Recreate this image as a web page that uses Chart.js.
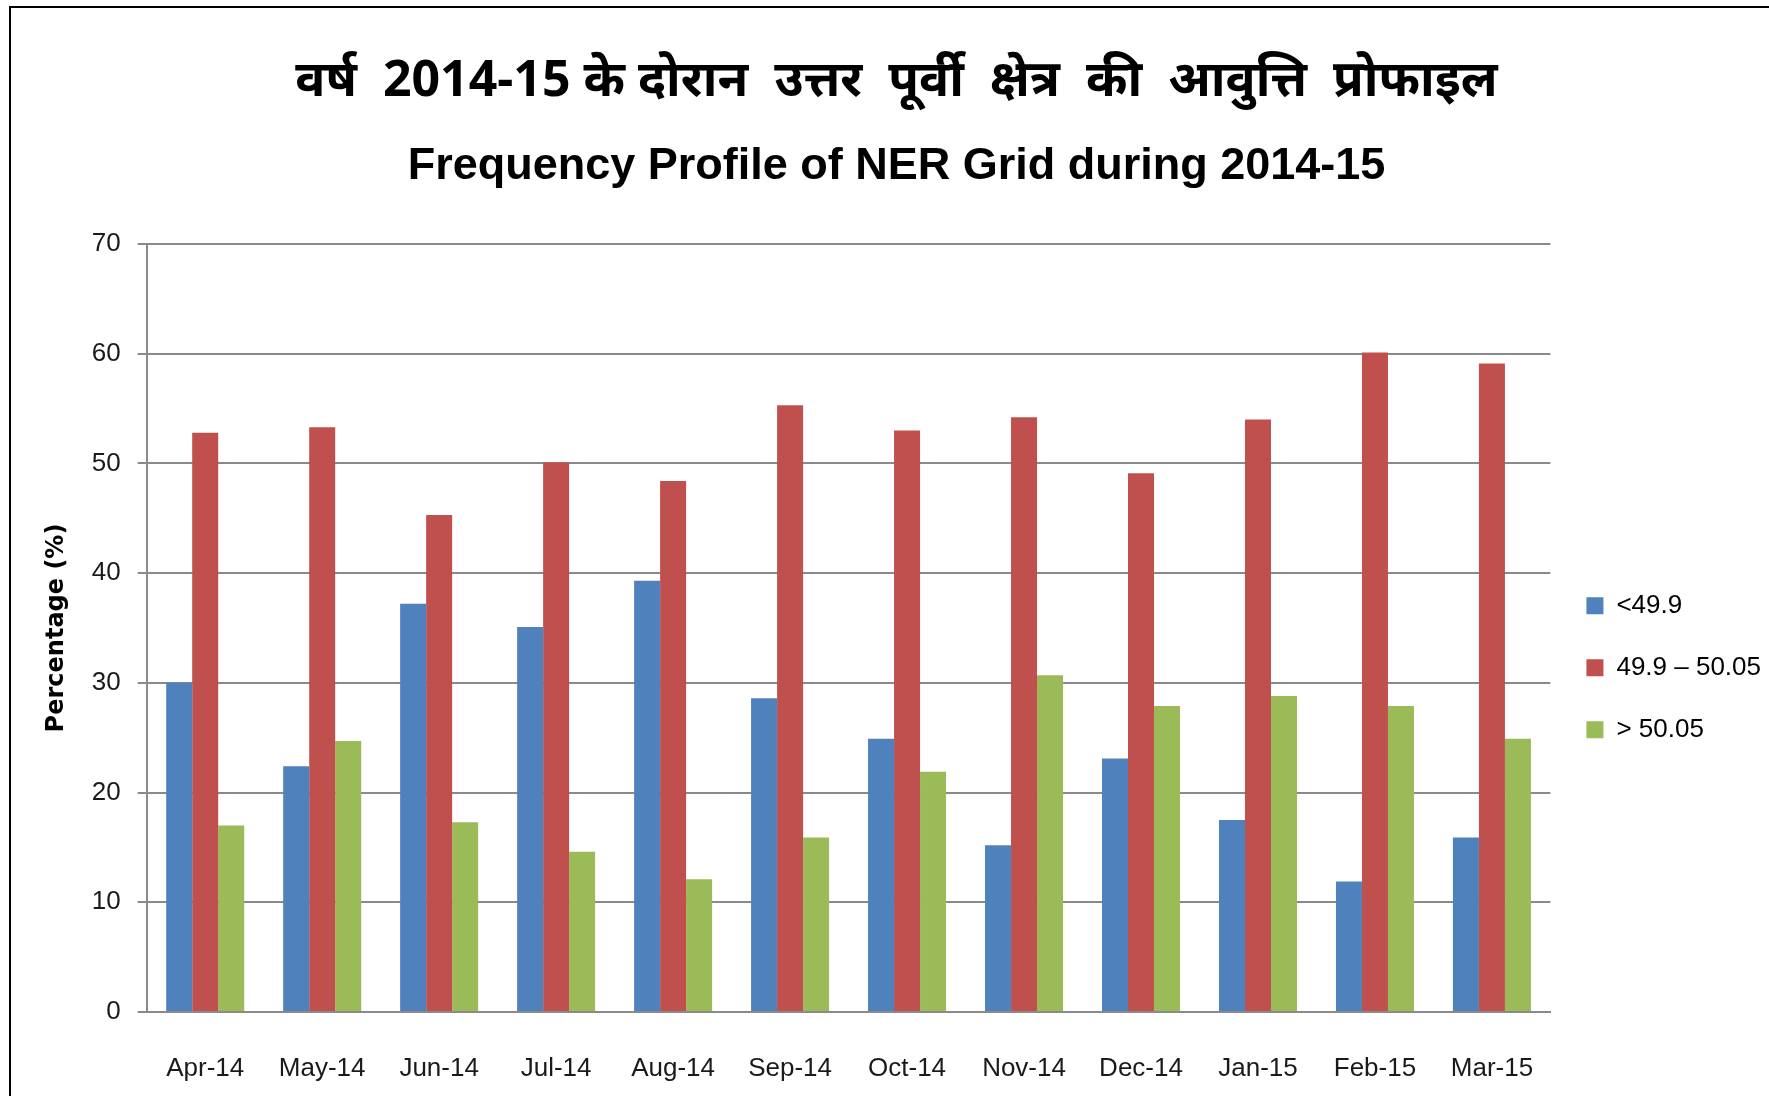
<!DOCTYPE html>
<html>
<head>
<meta charset="utf-8">
<script src="https://cdn.jsdelivr.net/npm/chart.js@4.4.1/dist/chart.umd.min.js"></script>
<style>
    html, body { margin: 0; padding: 0; background: #ffffff; }
    #wrap { position: relative; width: 1769px; height: 1096px; overflow: hidden; }
    #frame { position: absolute; left: 9px; top: 6px; width: 1800px; height: 1200px; border: 2px solid #000; box-sizing: border-box; }
    #chartBox { position: absolute; left: 0; top: 0; width: 1769px; height: 1096px; }
</style>
</head>
<body>
<div id="wrap">
    <div id="frame"></div>
    <div id="chartBox"><canvas id="freqChart"></canvas></div>
</div>
<script>
const months = ['Apr-14', 'May-14', 'Jun-14', 'Jul-14', 'Aug-14', 'Sep-14', 'Oct-14', 'Nov-14', 'Dec-14', 'Jan-15', 'Feb-15', 'Mar-15'];
const below499 = [30.0, 22.4, 37.2, 35.1, 39.3, 28.6, 24.9, 15.2, 23.1, 17.5, 11.9, 15.9];
const between = [52.8, 53.3, 45.3, 50.1, 48.4, 55.3, 53.0, 54.2, 49.1, 54.0, 60.1, 59.1];
const above5005 = [17.0, 24.7, 17.3, 14.6, 12.1, 15.9, 21.9, 30.7, 27.9, 28.8, 27.9, 24.9];
const yTicks = [0, 10, 20, 30, 40, 50, 60, 70];

const titleHindi = 'वर्ष  2014-15 के दोरान  उत्तर  पूर्वी  क्षेत्र  की  आवुत्ति  प्रोफाइल';
const titleEnglish = 'Frequency Profile of NER Grid during 2014-15';

(() => {
    const chartEl = document.getElementById('freqChart');
    if (!chartEl || typeof Chart === 'undefined') {
        return;
    }

    const gridGrey = '#8a8a8a';
    const labelFont = 'Liberation Sans, Arial, sans-serif';

    new Chart(chartEl.getContext('2d'), {
        type: 'bar',
        data: {
            labels: months,
            datasets: [
                { label: '<49.9', data: below499, backgroundColor: '#4f81bd' },
                { label: '49.9 – 50.05', data: between, backgroundColor: '#c0504d' },
                { label: '> 50.05', data: above5005, backgroundColor: '#9bbb59' },
            ],
        },
        options: {
            responsive: true,
            maintainAspectRatio: false,
            animation: false,
            layout: {
                padding: { left: 22, right: -2, top: 0, bottom: 0 },
            },
            datasets: {
                bar: {
                    categoryPercentage: 0.667,
                    barPercentage: 1.0,
                    borderWidth: 0,
                },
            },
            plugins: {
                title: {
                    display: true,
                    text: titleHindi,
                    color: '#000',
                    font: { family: 'Noto Sans, sans-serif', size: 50, weight: 'bold' },
                    padding: { top: 52, bottom: 0 },
                },
                subtitle: {
                    display: true,
                    text: titleEnglish,
                    color: '#000',
                    font: { family: labelFont, size: 45, weight: 'bold' },
                    padding: { top: 28, bottom: 50 },
                },
                legend: {
                    position: 'right',
                    // empty title only pushes the legend block down
                    title: {
                        display: true,
                        text: ' ',
                        padding: { top: 215, bottom: 10 },
                    },
                    labels: {
                        boxWidth: 17,
                        boxHeight: 17,
                        padding: 36,
                        color: '#000',
                        font: { family: labelFont, size: 26 },
                    },
                },
                tooltip: { enabled: false },
            },
            scales: {
                x: {
                    afterFit: (scale) => {
                        scale.height = 84;
                    },
                    grid: { display: false, drawTicks: false, tickLength: 0 },
                    border: { display: true, color: gridGrey, width: 2 },
                    ticks: {
                        color: '#1a1a1a',
                        padding: 41,
                        maxRotation: 0,
                        font: { family: labelFont, size: 26 },
                    },
                },
                y: {
                    min: 0,
                    max: 70,
                    afterBuildTicks: (scale) => {
                        scale.ticks = yTicks.map((v) => ({ value: v }));
                    },
                    grid: { color: gridGrey, lineWidth: 2, tickLength: 9 },
                    border: { display: true, color: gridGrey, width: 2 },
                    ticks: {
                        color: '#1a1a1a',
                        padding: 17,
                        font: { family: labelFont, size: 26 },
                    },
                    title: {
                        display: true,
                        text: 'Percentage (%)',
                        color: '#000',
                        padding: { top: 20, bottom: 4 },
                        font: { family: 'DejaVu Sans', size: 24, weight: 'bold' },
                    },
                },
            },
        },
    });
})();
</script>
</body>
</html>
